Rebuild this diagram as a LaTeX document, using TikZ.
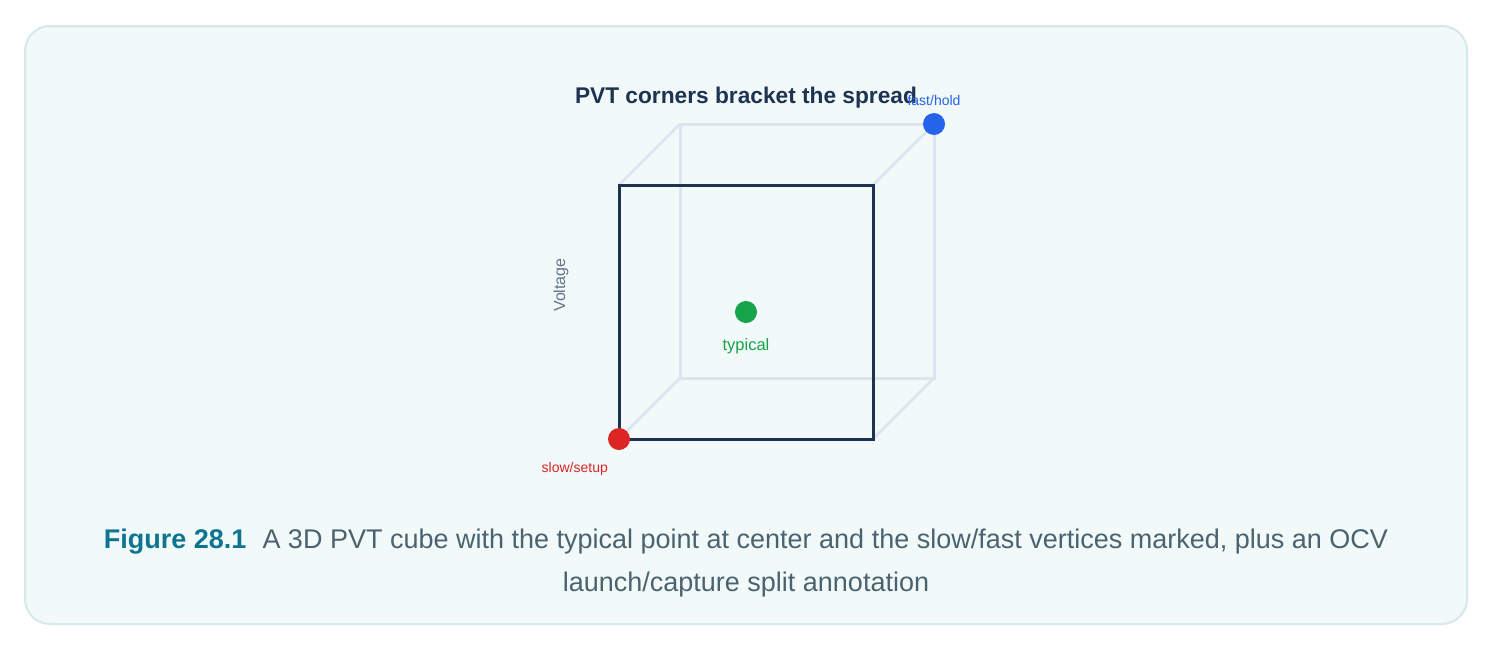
\documentclass[tikz,border=0pt]{standalone}
\usepackage{fontspec}
\setmainfont{Liberation Sans}
\usetikzlibrary{positioning}

\definecolor{panelfill}{HTML}{F1F9F9}
\definecolor{paneledge}{HTML}{D7E8EC}
\definecolor{backedge}{HTML}{DDE4F0}
\definecolor{navy}{HTML}{1E3352}
\definecolor{fastblue}{HTML}{2563EB}
\definecolor{slowred}{HTML}{DC2626}
\definecolor{typgreen}{HTML}{16A34A}
\definecolor{axisgray}{HTML}{64748B}
\definecolor{capteal}{HTML}{0E7490}
\definecolor{capgray}{HTML}{4B6370}

\tikzset{
  backline/.style={draw=backedge, line width=3pt},
  frontline/.style={draw=navy, line width=3pt},
  corner/.style={circle, inner sep=0pt, minimum size=22pt},
  lbl/.style={inner sep=0pt, font=\fontsize{14}{16}\selectfont}
}

\begin{document}
\begin{tikzpicture}[x=1pt, y=-1pt]
\useasboundingbox (0,0) rectangle (1494,651);
\draw[fill=panelfill, draw=paneledge, line width=2pt, rounded corners=25pt] (25,26) rectangle (1467,624);

% title
\node (title) at (746,98) {\fontsize{22.7}{26}\selectfont\bfseries\color{navy}PVT corners bracket the spread};

% cube corners, front face and back face
\coordinate (f-tl) at (619,185);
\coordinate (f-tr) at (873,185);
\coordinate (f-br) at (873,439);
\coordinate (f-bl) at (619,439);
\coordinate (b-tl) at (680,124);
\coordinate (b-tr) at (934,124);
\coordinate (b-br) at (934,378);
\coordinate (b-bl) at (680,378);

\draw[backline] (b-tl) -- (b-tr) -- (b-br) -- (b-bl) -- cycle;
\draw[backline, line width=2.5pt] (f-tl) -- (b-tl);
\draw[backline, line width=2.5pt] (f-tr) -- (b-tr);
\draw[backline, line width=2.5pt] (f-br) -- (b-br);
\draw[backline, line width=2.5pt] (f-bl) -- (b-bl);
\draw[frontline] (f-tl) -- (f-tr) -- (f-br) -- (f-bl) -- cycle;

% marked points
\node[corner, fill=fastblue] (fast) at (b-tr) {};
\node[corner, fill=slowred] (slow) at (f-bl) {};
\node[corner, fill=typgreen] (typ) at (746,312) {};

\node[lbl, text=fastblue, above=7pt of fast] (fastlbl) {fast/hold};
\node[lbl, text=slowred, below left=15pt and 3pt of slow] (slowlbl) {slow/setup};
\node[lbl, text=typgreen, font=\fontsize{16.5}{18}\selectfont, below=15pt of typ] (typlbl) {typical};
\node[lbl, text=axisgray, font=\fontsize{16}{18}\selectfont, rotate=90] (vlbl) at (561,285) {Voltage};

% caption
\node[align=center, font=\fontsize{27}{43}\selectfont, text=capgray] (caption) at (746,563)
  {{\bfseries\color{capteal}Figure 28.1}\hspace{16pt}A 3D PVT cube with the typical point at center and the slow/fast vertices marked, plus an OCV\\launch/capture split annotation};
\end{tikzpicture}
\end{document}
